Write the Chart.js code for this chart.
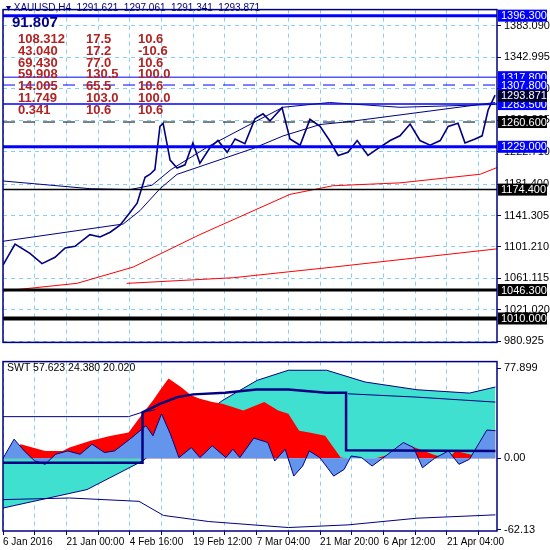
<!DOCTYPE html>
<html>
<head>
<meta charset="utf-8">
<script src="https://cdn.jsdelivr.net/npm/chart.js@4"></script>
<style>
  body { margin: 0; background: #fff; width: 550px; height: 550px; overflow: hidden; }
  canvas { position: absolute; left: 0; }
  #top { top: 0; }
  #bottom { top: 352px; }
  .txt { position: absolute; font-family: "Liberation Sans", Arial, sans-serif; white-space: pre; }
</style>
</head>
<body>
<canvas id="top" width="550" height="352"></canvas>
<canvas id="bottom" width="550" height="198"></canvas>
<div class="txt" style="left:6px;top:2px;font-size:10px;color:#000080">▾ XAUUSD,H4  1291.621  1297.061  1291.341  1293.871</div>
<div class="txt" style="left:12px;top:13px;font-size:15px;font-weight:bold;color:#000080">91.807</div>
<div id="stats" class="txt" style="left:0;top:33px;font-size:13px;font-weight:bold;color:#b22222"></div>
<div class="txt" style="left:7px;top:361px;font-size:10.5px;color:#000">SWT 57.623 24.380 20.020</div>
<script>
// x is in grid units (one dashed vertical gridline per unit)
const dateLabels = ['6 Jan 2016', '21 Jan 00:00', '4 Feb 16:00', '19 Feb 12:00', '7 Mar 04:00', '21 Mar 20:00', '6 Apr 12:00', '21 Apr 04:00'];
const xMax = 15.58;

const priceX = [0, .38, .85, 1.23, 1.64, 1.96, 2.27, 2.74, 3.06, 3.38, 3.69, 4.0, 4.23, 4.48, 4.64, 4.79, 4.95, 5.05, 5.27, 5.49, 5.74, 5.99, 6.21, 6.53, 6.78, 7.07, 7.32, 7.63, 7.95, 8.2, 8.42, 8.8, 9.05, 9.37, 9.68, 10.0, 10.3, 10.57, 10.88, 11.17, 11.51, 11.83, 12.21, 12.52, 12.84, 13.15, 13.47, 13.79, 14.04, 14.35, 14.57, 14.89, 15.11, 15.3, 15.52];
const priceY = [1078, 1105, 1093, 1080, 1088, 1100, 1102, 1117, 1114, 1120, 1129, 1145, 1157, 1190, 1194, 1200, 1255, 1259, 1212, 1202, 1206, 1234, 1208, 1228, 1237, 1222, 1239, 1233, 1265, 1271, 1262, 1279, 1239, 1231, 1264, 1255, 1237, 1218, 1222, 1237, 1218, 1227, 1237, 1243, 1258, 1237, 1231, 1237, 1255, 1259, 1234, 1239, 1243, 1276, 1295];

const fastX = [0, 3.79, 4.32, 4.95, 5.49, 7.89, 8.83, 10.0, 10.9, 15.52];
const fastY = [1108.5, 1130.5, 1147.6, 1175.5, 1193.9, 1226.9, 1242.8, 1257.4, 1261.1, 1285.5];
const slowX = [0, 2.74, 4.0, 4.7, 5.3, 6.5, 8.0, 8.83, 10.3, 12.52, 15.52];
const slowY = [1185.4, 1175.6, 1174.4, 1180, 1200, 1230, 1262, 1279.4, 1285.5, 1279.4, 1283];
const red1X = [0, 2.33, 4.1, 6.21, 9.05, 10.4, 12.52, 15.05, 15.58];
const red1Y = [1045, 1054.8, 1075.5, 1117.0, 1168.3, 1179.3, 1183.0, 1194.0, 1202.5];
const red2X = [3.9, 7.26, 10.4, 15.58];
const red2Y = [1054.8, 1062, 1075.5, 1098.8];

const priceTicks = [980.925, 1021.020, 1061.115, 1101.210, 1141.305, 1181.400, 1222.710, 1262.805, 1302.900, 1342.995, 1383.090];
// [value, colour, width, dashed, blue label box]
const levels = [
  [1396.3, '#0000ff', 3, false, true],
  [1317.8, '#0000ff', 1, false, true],
  [1307.8, '#0000ff', 1, true, true],
  [1283.5, '#0000ff', 1.5, false, true],
  [1260.6, '#000000', 1, true, false],
  [1229.0, '#0000ff', 3, false, true],
  [1174.4, '#000000', 1.5, false, false],
  [1046.3, '#000000', 3, false, false],
  [1010.0, '#000000', 4, false, false]
];
const lastPrice = 1293.871;

const statRows = [
  ['108.312', '17.5', '10.6'],
  ['43.040', '17.2', '-10.6'],
  ['69.430', '77.0', '10.6'],
  ['59.908', '130.5', '100.0'],
  ['14.005', '65.5', '10.6'],
  ['11.749', '103.0', '100.0'],
  ['0.341', '10.6', '10.6']
];

// oscillator
const cyanX = [0, 2.65, 4.4, 6.92, 8.02, 9.0, 10.21, 11.42, 13.06, 14.71, 15.53];
const cyanY = [-43.1, -27.1, -2.3, 50.1, 67.6, 76.3, 76.3, 66.1, 59.4, 56.5, 61.8];
const redX = [0, .56, 1.33, 1.88, 2.1, 2.76, 3.41, 3.96, 4.4, 4.73, 4.95, 5.22, 5.61, 5.94, 6.21, 6.6, 6.92, 7.58, 8.24, 8.68, 9.0, 9.34, 9.66, 10.16, 10.65, 10.88, 11.75, 12.3, 12.84, 13.61, 14.05, 14.27, 14.82, 15.04, 15.53];
const redY = [0, 12.2, 6.4, 6.4, 9.3, 15.2, 19.5, 22.4, 38.5, 50.1, 58.9, 69.1, 61.8, 54.5, 51.6, 48.7, 47.2, 41.4, 48.7, 41.4, 38.5, 23.9, 22.4, 19.5, 0.6, 0, 0, 4, 10.8, 2.9, 0, 6.4, 2.9, 0, 25.4];
const blueX = [0, .35, .67, 1.0, 1.33, 1.66, 2.04, 2.43, 2.81, 3.2, 3.52, 4.07, 4.51, 4.73, 5.0, 5.28, 5.55, 5.94, 6.21, 6.6, 7.03, 7.25, 7.47, 7.91, 8.35, 8.57, 8.9, 9.17, 9.45, 9.66, 9.99, 10.43, 10.76, 10.98, 11.31, 11.64, 11.97, 12.63, 12.95, 13.23, 13.61, 14.05, 14.38, 14.71, 15.26, 15.53];
const blueY = [0, 16.6, 6.4, -2.3, -5.2, 3.5, 6.4, 3.5, 12.2, 5.0, 6.4, 18.1, 28.3, 19.5, 38.5, 21.0, 0.6, 9.3, 0.6, 10.8, 0.6, 7.9, 0.6, 17.5, 13.7, -2.3, 7.9, -15.4, -6.7, 6.4, 0.6, -15.4, -9.6, 2.0, 0.6, -6.7, 0, 13.7, 9.3, -8.2, 0, 6.4, -5.2, -0.9, 24.5, 23.9];
const stepX = [0, 4.4, 4.4, 4.95, 5.5, 6.0, 7.0, 8.0, 9.0, 10.2, 10.82, 10.82, 15.53];
const stepY = [-3.8, -3.8, 39.9, 47.2, 53.0, 55.4, 56.8, 59.7, 59.7, 56.8, 56.8, 7.0, 6.4];
const upperX = [0, 3.96, 4.4, 4.8];
const upperY = [36.1, 36.1, 40, 42];
const innerX = [10.88, 13.06, 15.53];
const innerY = [55.9, 53.0, 48.7];
const lowerX = [0, 2.1, 4.29, 5.06, 6.49, 9.0, 10.88, 13.06, 15.53];
const lowerY = [-35.8, -34.4, -37.3, -49.5, -54.8, -60.0, -57.7, -51.9, -49.0];
const oscTicks = [-62.13, 0, 77.899];

const gridColor = '#87cefa';
const navy = '#000080';
const font = { family: 'Liberation Sans', size: 11 };

function pts(xs, ys) {
    return xs.map((x, i) => ({ x, y: ys[i] }));
}

function line(xs, ys, color, width, extra) {
    return Object.assign({
        data: pts(xs, ys), borderColor: color, borderWidth: width,
        pointRadius: 0, fill: false, tension: 0
    }, extra || {});
}

function xScale(showTicks) {
    return {
        type: 'linear', min: 0, max: xMax,
        afterBuildTicks: s => { s.ticks = Array.from({ length: 16 }, (_, i) => ({ value: i })); },
        grid: { color: gridColor, drawTicks: showTicks, tickLength: 4, tickColor: navy },
        border: { display: false, dash: [4, 4] },
        ticks: {
            display: showTicks, font: { family: 'Liberation Sans', size: 10 }, color: '#000',
            align: 'start', maxRotation: 0, padding: 1, autoSkip: false,
            callback: v => (v % 2 === 0 ? dateLabels[v / 2] : '')
        },
        afterFit: s => { s.height = showTicks ? 19 : 4; }
    };
}

const framePlugin = {
    id: 'frame',
    afterDraw(chart) {
        const { ctx, chartArea: a } = chart;
        ctx.save();
        ctx.strokeStyle = navy;
        ctx.lineWidth = 1.5;
        ctx.strokeRect(a.left, a.top, a.right - a.left, a.bottom - a.top);
        ctx.restore();
    }
};

const levelPlugin = {
    id: 'levels',
    afterDatasetsDraw(chart) {
        const { ctx, chartArea: a } = chart;
        const y = chart.scales.y;
        ctx.save();
        levels.forEach(([v, c, w, dashed]) => {
            const py = y.getPixelForValue(v);
            ctx.strokeStyle = c;
            ctx.lineWidth = w;
            ctx.setLineDash(dashed ? [12, 8] : []);
            ctx.beginPath();
            ctx.moveTo(a.left, py);
            ctx.lineTo(a.right, py);
            ctx.stroke();
        });
        ctx.restore();
    },
    afterDraw(chart) {
        const { ctx, chartArea: a } = chart;
        const y = chart.scales.y;
        ctx.save();
        ctx.font = '11px "Liberation Sans"';
        ctx.textBaseline = 'middle';
        const boxes = levels.map(l => [l[0], l[4] ? '#0000ff' : '#000000']);
        boxes.push([lastPrice, '#000033']);
        boxes.forEach(([v, bg]) => {
            const py = y.getPixelForValue(v);
            ctx.fillStyle = bg;
            ctx.fillRect(a.right + 1, py - 6, 49, 12);
            ctx.fillStyle = '#fff';
            ctx.fillText(v.toFixed(3), a.right + 4, py + 0.5);
        });
        ctx.restore();
    }
};

new Chart(document.getElementById('top'), {
    type: 'line',
    data: {
        datasets: [
            line(priceX, priceY, navy, 1.6),
            line(fastX, fastY, navy, 1),
            line(slowX, slowY, navy, 1),
            line(red1X, red1Y, '#ff0000', 1),
            line(red2X, red2Y, '#ff0000', 1)
        ]
    },
    options: {
        responsive: false, animation: false,
        layout: { padding: { top: 3, left: 3, right: 0, bottom: 0 } },
        plugins: { legend: { display: false }, tooltip: { enabled: false } },
        scales: {
            x: xScale(false),
            y: {
                position: 'right', min: 979.5, max: 1404,
                afterBuildTicks: s => { s.ticks = priceTicks.map(v => ({ value: v })); },
                grid: { color: gridColor, tickColor: navy, tickLength: 4, drawOnChartArea: true },
                border: { display: false, dash: [4, 4] },
                ticks: { font, color: '#000', padding: 3, callback: v => v.toFixed(3) },
                afterFit: s => { s.width = 53; }
            }
        }
    },
    plugins: [levelPlugin, framePlugin]
});

new Chart(document.getElementById('bottom'), {
    type: 'line',
    data: {
        datasets: [
            line(stepX, stepY, navy, 2.5, { order: 0 }),
            line(upperX, upperY, navy, 1, { order: 1 }),
            line(innerX, innerY, navy, 1, { order: 1 }),
            line(lowerX, lowerY, navy, 1, { order: 1 }),
            line(blueX, blueY, navy, 1, { order: 2, fill: 'origin', backgroundColor: '#6495ed' }),
            line(redX, redY, 'rgba(0,0,0,0)', 0, { order: 3, fill: 'origin', backgroundColor: '#ff0000' }),
            line(cyanX, cyanY, navy, 1, { order: 4, fill: 'origin', backgroundColor: '#40e0d0' })
        ]
    },
    options: {
        responsive: false, animation: false,
        layout: { padding: { top: 4, left: 3, right: 0, bottom: 0 } },
        plugins: { legend: { display: false }, tooltip: { enabled: false } },
        scales: {
            x: xScale(true),
            y: {
                position: 'right', min: -63, max: 83.8,
                afterBuildTicks: s => { s.ticks = oscTicks.map(v => ({ value: v })); },
                grid: { display: true, drawOnChartArea: false, tickColor: navy, tickLength: 4 },
                border: { display: false },
                ticks: { font, color: '#000', padding: 3, callback: v => (v === 0 ? '0.00' : String(v)) },
                afterFit: s => { s.width = 53; }
            }
        }
    },
    plugins: [framePlugin]
});

document.getElementById('stats').innerHTML = statRows.map(r =>
    `<div style="height:11.8px;line-height:11.8px"><span style="display:inline-block;width:68px;padding-left:18px">${r[0]}</span><span style="display:inline-block;width:52px">${r[1]}</span><span>${r[2]}</span></div>`
).join('');
</script>
</body>
</html>
